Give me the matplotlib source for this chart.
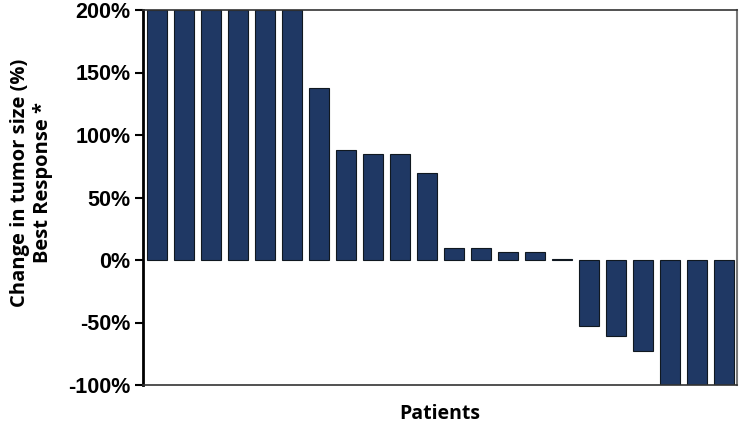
import numpy as np
import matplotlib.pyplot as plt

# best response per patient (%), first six exceed the axis and are clipped at 200%
patients = np.arange(22)
change = [200, 200, 200, 200, 200, 200, 137.5, 88, 85, 85, 69.5,
          10, 9.3, 6.7, 6.7, 1.2, -53, -61, -72.5, -100, -100, -100]
yticks = [-100, -50, 0, 50, 100, 150, 200]
ytick_labels = ['-100%', '-50%', '0%', '50%', '100%', '150%', '200%']

fig = plt.figure(figsize=(7.4, 4.26), dpi=100)
ax = fig.add_axes([143/740, 1 - 385/426, (737 - 143)/740, (385 - 10)/426])

ax.bar(patients, change, width=0.74, color='#1f3864', edgecolor='#101820', linewidth=0.8)

ax.set_xlim(-0.52, 21.48)
ax.set_ylim(-100, 200)
ax.set_xticks([])
ax.set_yticks(yticks)
ax.set_yticklabels(ytick_labels, fontfamily='Liberation Sans', fontweight='bold', fontsize=15.5)
ax.tick_params(axis='y', direction='out', length=6, width=1.5, pad=3)

ax.spines['left'].set_linewidth(2)
ax.spines['left'].set_color('black')
for s in ['top', 'bottom']:
    ax.spines[s].set_linewidth(1.2)
    ax.spines[s].set_color('#333333')
ax.spines['right'].set_linewidth(1.5)
ax.spines['right'].set_color('#777777')

ax.set_xlabel('Patients', fontfamily='Open Sans', fontweight='bold', fontsize=14, labelpad=14)
ax.set_ylabel('Change in tumor size (%)\nBest Response *', fontfamily='Open Sans',
              fontweight='bold', fontsize=14.5, linespacing=1.15)
ax.yaxis.set_label_coords(-0.152, 0.54)

fig.savefig('out.png', dpi=100)
